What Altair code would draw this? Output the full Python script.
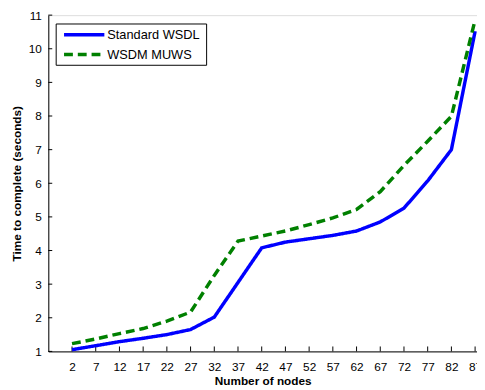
import altair as alt
import pandas as pd

nodes = [2, 7, 12, 17, 22, 27, 32, 37, 42, 47, 52, 57, 62, 67, 72, 77, 82, 87]
standard_wsdl = [1.05, 1.17, 1.29, 1.39, 1.5, 1.65, 2.02, 3.05, 4.08, 4.25, 4.35, 4.45, 4.58, 4.85, 5.26, 6.07, 7.0, 10.52]
wsdm_muws = [1.23, 1.37, 1.53, 1.68, 1.9, 2.17, 3.26, 4.28, 4.43, 4.58, 4.77, 4.97, 5.22, 5.75, 6.53, 7.25, 7.99, 10.86]
series_names = ["Standard WSDL", "WSDM MUWS"]
series_colors = ["#0000FF", "#008000"]
series_dash = [[1, 0], [9, 5]]
y_ticks = list(range(1, 12))

rows = []
for i, n in enumerate(nodes):
    rows.append({"nodes": n, "time": standard_wsdl[i], "series": series_names[0]})
    rows.append({"nodes": n, "time": wsdm_muws[i], "series": series_names[1]})
df = pd.DataFrame(rows)

FONT = "Liberation Sans"
W, H = 436, 342
x_scale = alt.Scale(domain=[-3, 87.4], nice=False, zero=False)
y_scale = alt.Scale(domain=[1, 11], nice=False, zero=False)

x_axis = alt.Axis(values=nodes, title="Number of nodes", grid=False,
                  tickSize=0, labelPadding=10, labelFontSize=12, labelFont=FONT,
                  labelColor="#000", domainColor="#000", labelFlush=False,
                  labelOverlap=False,
                  titleFont=FONT, titleFontSize=12, titleFontWeight="bold",
                  titlePadding=4, titleColor="#000")
y_axis = alt.Axis(values=y_ticks, title="Time to complete (seconds)", grid=False,
                  tickSize=0, labelPadding=7, labelFontSize=12, labelFont=FONT,
                  labelColor="#000", domainColor="#000", labelFlush=False,
                  labelOverlap=False,
                  titleFont=FONT, titleFontSize=12, titleFontWeight="bold",
                  titlePadding=5, titleColor="#000")

lines = alt.Chart(df).mark_line(strokeWidth=3.5).encode(
    x=alt.X("nodes:Q", scale=x_scale, axis=x_axis),
    y=alt.Y("time:Q", scale=y_scale, axis=y_axis),
    color=alt.Color("series:N",
                    scale=alt.Scale(domain=series_names, range=series_colors),
                    legend=None),
    strokeDash=alt.StrokeDash("series:N",
                              scale=alt.Scale(domain=series_names, range=series_dash),
                              legend=None),
)

xtick_df = pd.DataFrame({"nodes": nodes})
xticks = alt.Chart(xtick_df).mark_rule(color="#000", strokeWidth=1).encode(
    x=alt.X("nodes:Q", scale=x_scale, axis=x_axis),
    y=alt.value(H),
    y2=alt.value(H - 5),
)
ytick_df = pd.DataFrame({"time": y_ticks})
yticks = alt.Chart(ytick_df).mark_rule(color="#000", strokeWidth=1).encode(
    y=alt.Y("time:Q", scale=y_scale, axis=y_axis),
    x=alt.value(0),
    x2=alt.value(4),
)

# manual legend (box, line samples, labels)
leg_box = alt.Chart(pd.DataFrame({"a": [0]})).mark_rect(
    fill="#fff", stroke="#000", strokeWidth=1
).encode(x=alt.value(8), x2=alt.value(161), y=alt.value(9), y2=alt.value(51))

leg_items = []
for i, name in enumerate(series_names):
    yy = 20 + 20 * i
    d = pd.DataFrame({"series": [name]})
    leg_items.append(
        alt.Chart(d).mark_rule(strokeWidth=3.5, color=series_colors[i],
                               strokeDash=series_dash[i]).encode(
            x=alt.value(16), x2=alt.value(57), y=alt.value(yy))
    )
    leg_items.append(
        alt.Chart(d).mark_text(align="left", baseline="middle", font=FONT,
                               fontSize=13, color="#000").encode(
            text="series:N", x=alt.value(60), y=alt.value(yy + 0.5))
    )

chart = alt.layer(xticks, yticks, lines, leg_box, *leg_items).properties(
    width=W, height=H,
    autosize=alt.AutoSizeParams(type="none"),
    padding={"left": 41, "top": 4, "right": 0, "bottom": 36},
).configure_view(stroke=None).configure(background="#ffffff")

chart.save("out.html", embed_options={"renderer": "svg", "actions": False})
